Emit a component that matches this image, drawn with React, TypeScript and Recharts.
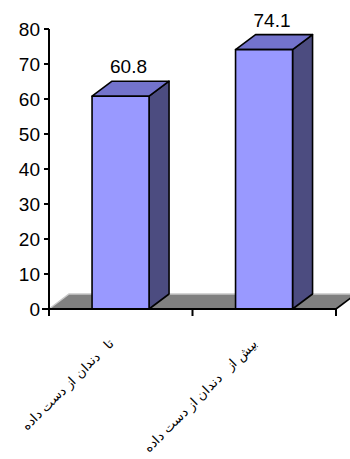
import React from 'react';
import { BarChart, Bar, XAxis, YAxis, ReferenceArea, LabelList } from 'recharts';

const categories = ['تا   دندان از دست داده', 'بیش از   دندان از دست داده'];
const values = [60.8, 74.1];
const yTicks = [0, 10, 20, 30, 40, 50, 60, 70, 80];

const data = categories.map((name, i) => ({ name, value: values[i] }));

const W = 350;
const H = 459;
const M = { top: 29, right: 14, bottom: 0, left: 0 };
const Y_W = 49;
const X_H = 150;
const PLOT_W = W - M.left - M.right - Y_W;
const BAND = PLOT_W / categories.length;
const DX = 20;
const DY = 15;
const FONT = 'Arial, "Liberation Sans", sans-serif';

const Box = (props: any) => {
  const { x, y, width, height } = props;
  const s = { stroke: '#000', strokeWidth: 1.6, strokeLinejoin: 'round' as const };
  return (
    <g>
      <polygon
        points={`${x + width},${y} ${x + width + DX},${y - DY} ${x + width + DX},${y + height - DY} ${x + width},${y + height}`}
        fill="#4C4C80"
        {...s}
      />
      <polygon
        points={`${x},${y} ${x + DX},${y - DY} ${x + width + DX},${y - DY} ${x + width},${y}`}
        fill="#7373CC"
        {...s}
      />
      <rect x={x} y={y} width={width} height={height} fill="#9999FF" {...s} />
    </g>
  );
};

const Floor = (props: any) => {
  const { x, y, width, height } = props;
  const yf = y + height;
  return (
    <g>
      <polygon
        points={`${x},${yf} ${x + width},${yf} ${x + width + DX},${y} ${x + DX},${y}`}
        fill="#808080"
      />
      <polyline points={`${x},${yf} ${x + DX},${y} ${x + width + DX},${y}`} fill="none" stroke="#C8C8C8" strokeWidth={1.5} />
      <line x1={x + width} y1={yf} x2={x + width + DX} y2={y} stroke="#000" strokeWidth={1.6} />
      <line x1={x - 7} y1={yf} x2={x} y2={yf} stroke="#000" strokeWidth={2} />
    </g>
  );
};

const XTick = (props: any) => {
  const { x, y, payload, index } = props;
  const ax = y - 8;
  const tx = x - 6;
  const ty = ax + 35;
  return (
    <g>
      <line x1={x - BAND / 2} y1={ax} x2={x - BAND / 2} y2={ax + 7} stroke="#000" strokeWidth={2} />
      {index === categories.length - 1 && (
        <line x1={x + BAND / 2} y1={ax} x2={x + BAND / 2} y2={ax + 7} stroke="#000" strokeWidth={2} />
      )}
      <text
        x={tx}
        y={ty}
        transform={`rotate(-45 ${tx} ${ty})`}
        textAnchor="end"
        fontSize={13}
        fontFamily={FONT}
        fill="#000"
        xmlSpace="preserve"
        style={{ whiteSpace: 'pre' }}
      >
        {payload.value}
      </text>
    </g>
  );
};

const ValueLabel = (props: any) => {
  const { x, y, width, value } = props;
  return (
    <text x={x + width / 2 + 8} y={y - 23} textAnchor="middle" fontSize={19} fontFamily={FONT} fill="#000">
      {value}
    </text>
  );
};

export default function App() {
  return (
    <div style={{ position: 'absolute', left: 0, top: 0, background: '#fff' }}>
      <BarChart width={W} height={H} data={data} margin={M} barCategoryGap="30%">
        <ReferenceArea y1={0} y2={DY / 3.5} shape={<Floor />} ifOverflow="visible" />
        <XAxis
          dataKey="name"
          height={X_H}
          axisLine={{ stroke: '#000', strokeWidth: 2 }}
          tickLine={false}
          tick={<XTick />}
          interval={0}
        />
        <YAxis
          width={Y_W}
          domain={[0, 80]}
          ticks={yTicks}
          interval={0}
          axisLine={{ stroke: '#000', strokeWidth: 2 }}
          tickLine={{ stroke: '#000', strokeWidth: 2 }}
          tickSize={5}
          tickMargin={4}
          tick={{ fontSize: 19, fill: '#000', fontFamily: FONT }}
        />
        <Bar dataKey="value" shape={<Box />} isAnimationActive={false}>
          <LabelList dataKey="value" content={<ValueLabel />} />
        </Bar>
      </BarChart>
    </div>
  );
}
